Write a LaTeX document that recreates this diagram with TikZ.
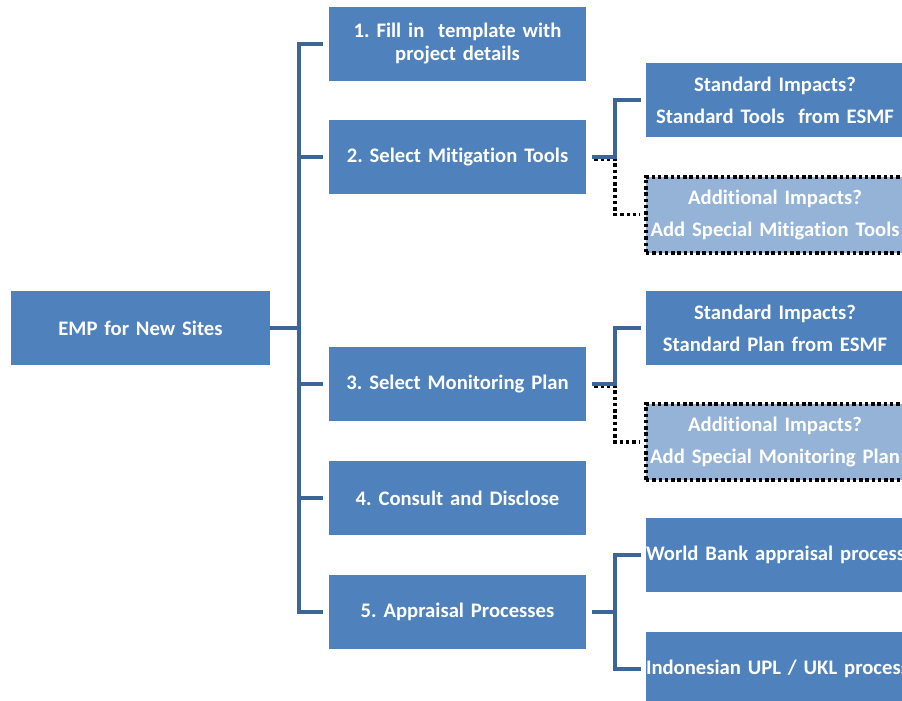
\documentclass[tikz,border=0pt]{standalone}
\usepackage{fontspec}
\setmainfont{Carlito}[Ligatures=NoCommon]
\usetikzlibrary{calc}
\definecolor{boxblue}{HTML}{4F81BD}
\definecolor{lightblue}{HTML}{95B3D7}
\definecolor{linkblue}{HTML}{3D6698}
\frenchspacing
\begin{document}
\begin{tikzpicture}[x=0.75pt,y=-0.75pt,
  box/.style={fill=boxblue, draw=none, text width=192.75pt, minimum height=55.5pt,
    inner xsep=0pt, inner ysep=0pt, text=white, align=center,
    font=\fontsize{15.5}{17.25}\selectfont\bfseries\frenchspacing},
  rbox/.style={box, text width=193.5pt, font=\fontsize{15.5}{24}\selectfont\bfseries\frenchspacing},
  abox/.style={rbox, fill=lightblue, minimum height=57pt, draw=black, line width=3pt,
    dash pattern=on 2.6pt off 2.1pt},
  conn/.style={draw=linkblue, line width=3pt},
  dotconn/.style={draw=black, line width=2.6pt, dash pattern=on 2.6pt off 2.1pt}]
\useasboundingbox (0,0) rectangle (902,700);
\clip (0,0) rectangle (902,700);
% left column
\node[box, text width=194.25pt] (emp) at (140.5,328) {EMP for New Sites};
\node[box] (b1) at (457.5,43.5) {1. Fill in\ \ template with\\project details};
\node[box] (b2) at (457.5,157) {2. Select Mitigation Tools};
\node[box] (b3) at (457.5,384) {3. Select Monitoring Plan};
\node[box] (b4) at (457.5,498) {4. Consult and Disclose};
\node[box] (b5) at (457.5,612) {5. Appraisal Processes};
% right column
\node[rbox] (s1) at (775,100) {Standard Impacts?\\Standard Tools\ \ from ESMF};
\node[abox] (a1) at (775,214.5) {Additional Impacts?\\Add Special Mitigation Tools};
\node[rbox] (s2) at (775,328) {Standard Impacts?\\Standard Plan from ESMF};
\node[abox] (a2) at (775,442) {Additional Impacts?\\Add Special Monitoring Plan};
\node[rbox] (w) at (775,555) {\makebox[193.5pt][l]{World Bank appraisal process}};
\node[rbox] (u) at (775,669) {\makebox[193.5pt][l]{Indonesian UPL / UKL process}};
% main tree
\coordinate (trunk) at (299,328);
\draw[conn] (emp.east) -- (trunk);
\draw[conn] ([xshift=-4.5pt]b1.west) -- (b1.west -| trunk) -- (b5.west -| trunk) -- ([xshift=-4.5pt]b5.west);
\draw[conn] (b2.west -| trunk) -- ([xshift=-4.5pt]b2.west);
\draw[conn] (b3.west -| trunk) -- ([xshift=-4.5pt]b3.west);
\draw[conn] (b4.west -| trunk) -- ([xshift=-4.5pt]b4.west);
% branch from 2
\coordinate (j2) at (615,157);
\draw[dotconn] ([xshift=6pt]b2.east) ++(0,2) -- ($(j2)+(0,2)$) |- ([xshift=-3.5pt]a1.west);
\draw[conn] ([xshift=4.5pt]b2.east) -- (j2) |- ([xshift=-3.75pt]s1.west);
% branch from 3
\coordinate (j3) at (615,384);
\draw[dotconn] ([xshift=6pt]b3.east) ++(0,2) -- ($(j3)+(0,2)$) |- ([xshift=-3.5pt]a2.west);
\draw[conn] ([xshift=4.5pt]b3.east) -- (j3) |- ([xshift=-3.75pt]s2.west);
% branch from 5
\coordinate (j5) at (615,612);
\draw[conn] ([xshift=4.5pt]b5.east) -- (j5);
\draw[conn] ([xshift=-3.75pt]w.west) -| (j5) |- ([xshift=-3.75pt]u.west);
\end{tikzpicture}
\end{document}
